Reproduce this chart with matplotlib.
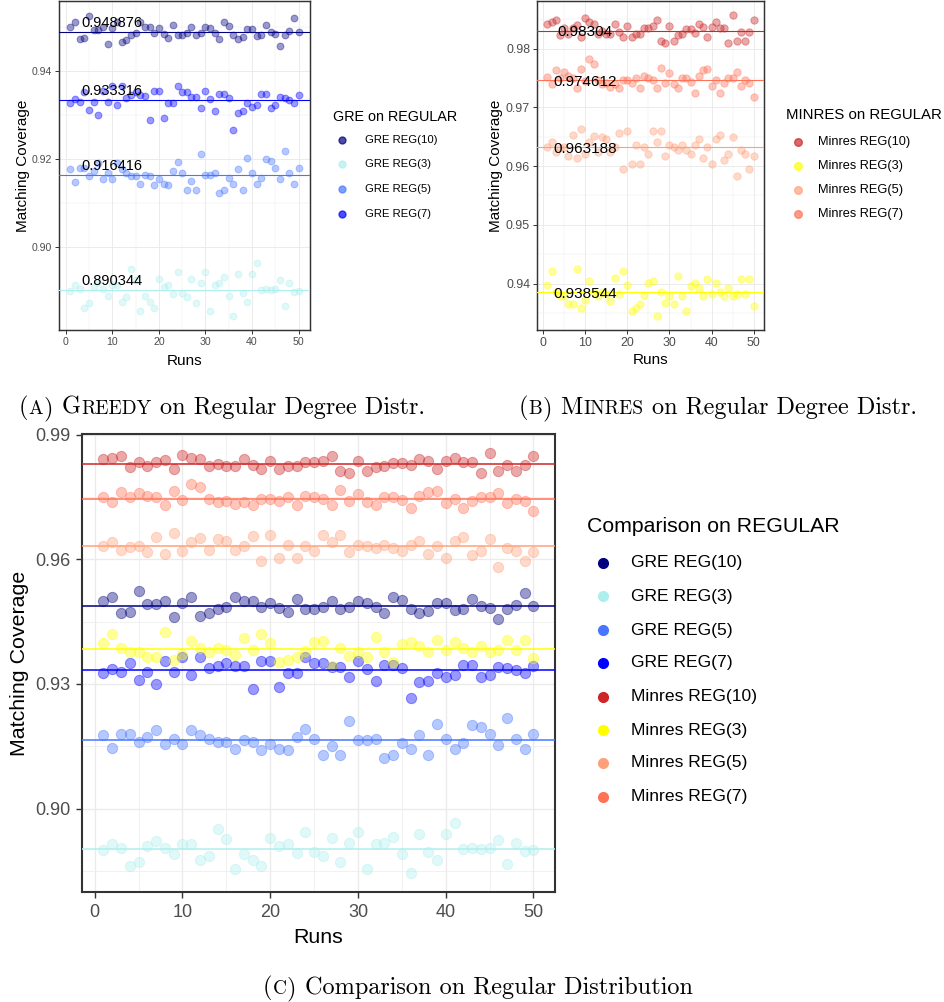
import numpy as np
import matplotlib
matplotlib.use('Agg')
import matplotlib.pyplot as plt
from matplotlib.lines import Line2D

W, H = 945, 1002
plt.rcParams['font.family'] = ['Liberation Sans', 'DejaVu Sans']

# runs 1..50, valores
runs = np.arange(1, 51)

gre_10 = [0.94999, 0.95104, 0.94719, 0.94743, 0.95241, 0.94920, 0.94920, 0.94999, 0.94607, 0.94960,
          0.95104, 0.94647, 0.94703, 0.94807, 0.94864, 0.95104, 0.94999, 0.94999, 0.94864, 0.94960,
          0.94823, 0.94743, 0.95040, 0.94807, 0.94807, 0.94847, 0.94999, 0.94807, 0.94864, 0.94999,
          0.94960, 0.94864, 0.94719, 0.95104, 0.95024, 0.94807, 0.94719, 0.94767, 0.94944, 0.94944,
          0.94783, 0.94807, 0.95040, 0.94888, 0.94823, 0.94566, 0.94807, 0.94904, 0.95201, 0.94888]
gre_3 = [0.89002, 0.89139, 0.89042, 0.88617, 0.88721, 0.89099, 0.89219, 0.89042, 0.88898, 0.89139,
         0.89139, 0.88753, 0.88858, 0.89500, 0.89259, 0.88552, 0.88898, 0.88753, 0.88617, 0.89283,
         0.89099, 0.89139, 0.88938, 0.89436, 0.88962, 0.88858, 0.89283, 0.88721, 0.89179, 0.89436,
         0.88552, 0.89139, 0.89179, 0.89316, 0.88898, 0.88440, 0.89380, 0.88962, 0.88761, 0.89380,
         0.89645, 0.89022, 0.89042, 0.89018, 0.89058, 0.89243, 0.88657, 0.89179, 0.88978, 0.89002]
gre_5 = [0.91762, 0.91465, 0.91786, 0.91786, 0.91601, 0.91722, 0.91899, 0.91545, 0.91682, 0.91545,
         0.91899, 0.91762, 0.91682, 0.91601, 0.91601, 0.91425, 0.91642, 0.91601, 0.91401, 0.91545,
         0.91441, 0.91401, 0.91722, 0.91923, 0.91682, 0.91296, 0.91505, 0.91296, 0.92100, 0.91642,
         0.91642, 0.91682, 0.91216, 0.91296, 0.91577, 0.91425, 0.91762, 0.91296, 0.92027, 0.91682,
         0.91425, 0.91577, 0.92003, 0.91963, 0.91802, 0.91537, 0.92180, 0.91682, 0.91425, 0.91786]
gre_7 = [0.93259, 0.93364, 0.93299, 0.93508, 0.93099, 0.93299, 0.93002, 0.93549, 0.93299, 0.93661,
         0.93219, 0.93645, 0.93380, 0.93444, 0.93508, 0.93444, 0.93428, 0.92882, 0.93549, 0.93549,
         0.92922, 0.93259, 0.93259, 0.93645, 0.93508, 0.93508, 0.93404, 0.93404, 0.93163, 0.93549,
         0.93364, 0.93083, 0.93468, 0.93468, 0.93380, 0.92665, 0.93042, 0.93083, 0.93259, 0.93179,
         0.93219, 0.93468, 0.93468, 0.93163, 0.93219, 0.93404, 0.93380, 0.93340, 0.93259, 0.93444]
minres_10 = [0.98424, 0.98449, 0.98489, 0.98232, 0.98344, 0.98248, 0.98344, 0.98408, 0.98192, 0.98529,
             0.98449, 0.98424, 0.98248, 0.98304, 0.98248, 0.98248, 0.98424, 0.98288, 0.98192, 0.98384,
             0.98192, 0.98248, 0.98248, 0.98344, 0.98344, 0.98384, 0.98489, 0.98127, 0.98087, 0.98384,
             0.98127, 0.98232, 0.98248, 0.98328, 0.98328, 0.98272, 0.98424, 0.98368, 0.98192, 0.98368,
             0.98449, 0.98344, 0.98344, 0.98087, 0.98569, 0.98127, 0.98288, 0.98127, 0.98288, 0.98489]
minres_3 = [0.93983, 0.94208, 0.93862, 0.93782, 0.93782, 0.93646, 0.93646, 0.94248, 0.93581, 0.93720,
            0.94047, 0.93862, 0.93782, 0.93862, 0.93830, 0.93710, 0.94103, 0.93830, 0.94208, 0.93983,
            0.93541, 0.93581, 0.93646, 0.93806, 0.94007, 0.94047, 0.93445, 0.93862, 0.93670, 0.93782,
            0.93646, 0.94127, 0.93782, 0.93541, 0.93967, 0.94007, 0.93927, 0.93782, 0.94071, 0.93830,
            0.94007, 0.93862, 0.93782, 0.93927, 0.93782, 0.93830, 0.94071, 0.93830, 0.94071, 0.93622]
minres_5 = [0.96319, 0.96415, 0.96239, 0.96311, 0.96319, 0.96174, 0.96536, 0.96134, 0.96632, 0.96198,
            0.96415, 0.96520, 0.96239, 0.96495, 0.96455, 0.96239, 0.96319, 0.96560, 0.95957, 0.96600,
            0.96038, 0.96351, 0.96038, 0.96319, 0.96198, 0.96600, 0.96415, 0.96600, 0.96174, 0.96359,
            0.96319, 0.96279, 0.96351, 0.96279, 0.96198, 0.96359, 0.96455, 0.96134, 0.96319, 0.96038,
            0.96455, 0.96536, 0.96110, 0.96198, 0.96495, 0.95829, 0.96279, 0.96198, 0.95957, 0.96174]
minres_7 = [0.97509, 0.97389, 0.97630, 0.97501, 0.97606, 0.97541, 0.97501, 0.97325, 0.97646, 0.97445,
            0.97822, 0.97742, 0.97461, 0.97389, 0.97421, 0.97349, 0.97389, 0.97325, 0.97461, 0.97461,
            0.97421, 0.97501, 0.97325, 0.97541, 0.97501, 0.97461, 0.97325, 0.97670, 0.97421, 0.97582,
            0.97389, 0.97325, 0.97501, 0.97501, 0.97429, 0.97244, 0.97541, 0.97630, 0.97646, 0.97365,
            0.97461, 0.97244, 0.97421, 0.97501, 0.97501, 0.97606, 0.97365, 0.97461, 0.97421, 0.97180]

gre_names = ['GRE REG(10)', 'GRE REG(3)', 'GRE REG(5)', 'GRE REG(7)']
minres_names = ['Minres REG(10)', 'Minres REG(3)', 'Minres REG(5)', 'Minres REG(7)']
gre_series = [gre_10, gre_3, gre_5, gre_7]
minres_series = [minres_10, minres_3, minres_5, minres_7]
gre_means = [0.948876, 0.890344, 0.916416, 0.933316]
minres_means = [0.98304, 0.938544, 0.963188, 0.974612]
gre_colors = ['#000080', '#AFEEEE', '#4876FF', '#0000FF']
minres_colors = ['#CD2626', '#FFFF00', '#FFA07A', '#FF7256']

fig = plt.figure(figsize=(W / 100, H / 100), dpi=100)


def px_axes(left, top, right, bottom):
    return fig.add_axes([left / W, 1 - bottom / H, (right - left) / W, (bottom - top) / H])


def style_axes(ax, ylim, yticks, yminor, tick_fs, lab_fs, grid_lw, tick_len, xpad, ypad, tpad):
    ax.set_xlim(-1.45, 52.45)
    ax.set_ylim(*ylim)
    ax.set_xticks([0, 10, 20, 30, 40, 50])
    ax.set_xticks([5, 15, 25, 35, 45], minor=True)
    ax.set_yticks(yticks)
    ax.set_yticklabels(['%.2f' % v for v in yticks])
    ax.set_yticks(yminor, minor=True)
    ax.grid(which='major', color='#EBEBEB', lw=grid_lw)
    ax.grid(which='minor', color='#EBEBEB', lw=grid_lw * 0.5)
    ax.set_axisbelow(True)
    ax.tick_params(which='minor', length=0)
    ax.tick_params(which='major', length=tick_len, width=grid_lw, color='#333333',
                   labelcolor='#4D4D4D', labelsize=tick_fs, pad=tpad)
    for s in ax.spines.values():
        s.set_color('#333333')
        s.set_linewidth(grid_lw * 1.5)
    ax.set_xlabel('Runs', fontsize=lab_fs, labelpad=xpad)
    ax.set_ylabel('Matching Coverage', fontsize=lab_fs, labelpad=ypad)


def draw_series(ax, series, means, colors, size, lw):
    for vals, c in zip(series, colors):
        ax.scatter(runs, vals, s=size, color=c, alpha=0.4, edgecolors=c, linewidths=0.7, zorder=2)
    for m, c in zip(means, colors):
        ax.axhline(m, color=c, lw=lw, zorder=3)


def legend_px(title, x_title, y_title, names, colors, x_dot, x_lab, ys, title_fs, lab_fs, ms, alpha):
    fig.text(x_title / W, 1 - y_title / H, title, fontsize=title_fs, va='center', ha='left')
    for lab, c, y in zip(names, colors, ys):
        fig.add_artist(Line2D([x_dot / W], [1 - y / H], marker='o', ms=ms, color=c, alpha=alpha,
                              linestyle='none', transform=fig.transFigure))
        fig.text(x_lab / W, 1 - y / H, lab, fontsize=lab_fs, va='center', ha='left')


# (a) GRE
ax_a = px_axes(59, 1, 310, 330)
draw_series(ax_a, gre_series, gre_means, gre_colors, 24, 0.8)
for m in gre_means:
    ax_a.text(10, m + 0.002, str(m), ha='center', va='center', fontsize=10.5, zorder=4)
style_axes(ax_a, (0.8812, 0.9558), [0.90, 0.92, 0.94], [0.89, 0.91, 0.93, 0.95],
           7.6, 11, 0.7, 3, 5, 1, 2)
legend_px('GRE on REGULAR', 333, 117, gre_names, gre_colors, 342, 365, [140, 164, 189, 214],
          10.4, 8.1, 5, 0.7)

# (b) MINRES
ax_b = px_axes(537, 1, 764, 330)
draw_series(ax_b, minres_series, minres_means, minres_colors, 28, 0.8)
for m in minres_means:
    ax_b.text(10, m - 0.0003, str(m), ha='center', va='center', fontsize=11, zorder=4)
style_axes(ax_b, (0.9321, 0.9881), [0.94, 0.95, 0.96, 0.97, 0.98],
           [0.935, 0.945, 0.955, 0.965, 0.975, 0.985], 8.9, 11, 0.7, 3, 3, 2, 2)
legend_px('MINRES on REGULAR', 786, 115, minres_names, minres_colors, 798, 818, [142, 166, 190, 214],
          10.8, 9.2, 5.5, 0.7)

# (c) comparacio
ax_c = px_axes(82, 434, 555, 892)
draw_series(ax_c, gre_series + minres_series, gre_means + minres_means, gre_colors + minres_colors, 55, 1.1)
style_axes(ax_c, (0.87988, 0.99024), [0.90, 0.93, 0.96, 0.99], [0.885, 0.915, 0.945, 0.975],
           13, 15.4, 1.0, 4.5, 5, 4, 4)
legend_px('Comparison on REGULAR', 587, 526, gre_names + minres_names, gre_colors + minres_colors,
          603, 631, [563, 596, 630, 663, 697, 730, 763, 797], 15.3, 12.6, 7, 1.0)


def caption(xc, y_base, parts, size):
    rend = fig.canvas.get_renderer()
    texts, widths = [], []
    for s, small in parts:
        if s == ' ':
            texts.append(None)
            widths.append(size * 0.333 * 100 / 72)
            continue
        t = fig.text(0, 1 - y_base / H, s, family='cmr10', fontsize=size * 0.8 if small else size,
                     va='baseline', ha='left')
        texts.append(t)
        widths.append(t.get_window_extent(rend).width + size * 0.03)
    x = xc - sum(widths) / 2
    for t, w in zip(texts, widths):
        if t is not None:
            t.set_x(x / W)
        x += w


caption(222, 414, [('(', 0), ('A', 1), (')', 0), (' ', 0), ('G', 0), ('REEDY', 1), (' ', 0),
                   ('on Regular Degree Distr.', 0)], 17.5)
caption(718, 414, [('(', 0), ('B', 1), (')', 0), (' ', 0), ('M', 0), ('INRES', 1), (' ', 0),
                   ('on Regular Degree Distr.', 0)], 17.5)
caption(478, 994, [('(', 0), ('C', 1), (')', 0), (' ', 0), ('Comparison on Regular Distribution', 0)], 17.5)

fig.savefig('out.png', dpi=100)
